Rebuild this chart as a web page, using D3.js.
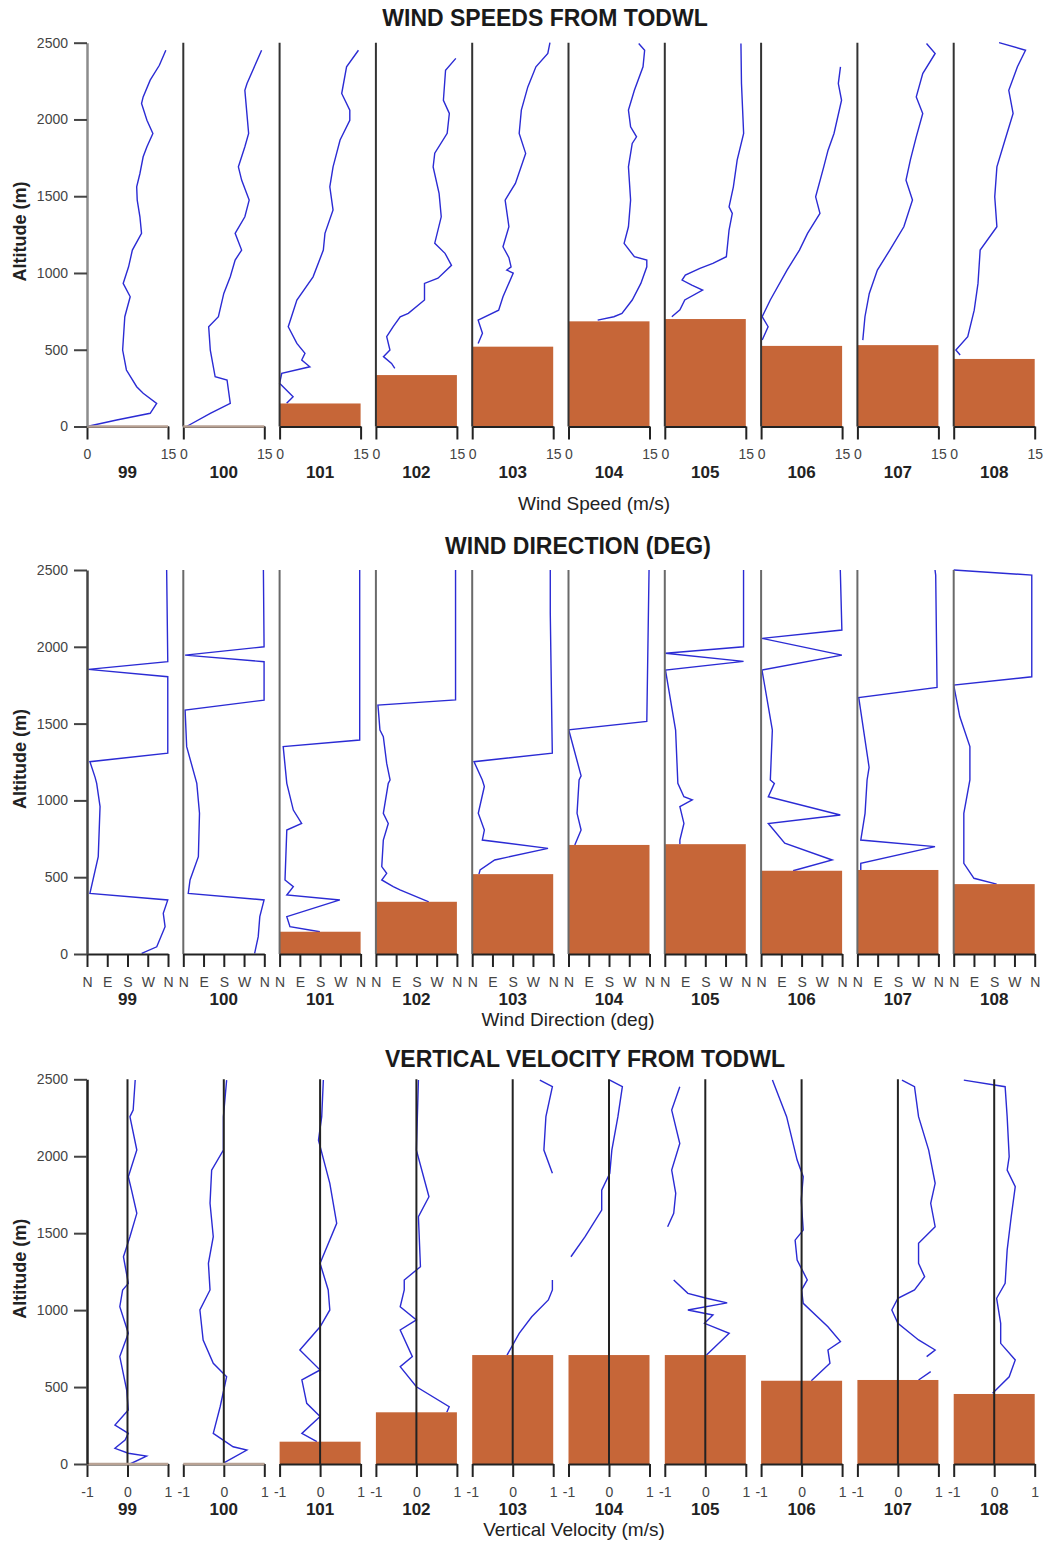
<!DOCTYPE html>
<html>
<head>
<meta charset="utf-8">
<script src="https://d3js.org/d3.v7.min.js"></script>
<style>
  body { margin: 0; background: #fff; }
  svg { font-family: "Liberation Sans", Arial, sans-serif; }
</style>
</head>
<body>
<script>
// flight / run numbers, one column each
const runs = ["99", "100", "101", "102", "103", "104", "105", "106", "107", "108"];
const altTicks = [0, 500, 1000, 1500, 2000, 2500];
const speedTicks = [0, 15];
const dirTicks = [0, 90, 180, 270, 360];
const dirLabels = ["N", "E", "S", "W", "N"];
const vertTicks = [-1, 0, 1];

// boundary layer depth (m) drawn as the orange bars, per panel
const pblSpeed = [0, 0, 150, 335, 520, 685, 700, 525, 530, 440];
const pblDir = [0, 0, 145, 340, 520, 710, 715, 542, 547, 455];
const pblVert = [0, 0, 145, 336, 708, 708, 708, 541, 546, 455];

// [altitude m, wind speed m/s]
const speedProfiles = [
  [[0,0],[42,5.5],[86,11.7],[151,12.9],[216,10.4],[259,9.2],[368,7.3],[498,6.6],[715,7.0],[845,8.0],[932,6.7],[1040,7.7],[1149,8.4],[1258,10.1],[1366,9.8],[1475,9.3],[1561,9.2],[1648,9.8],[1757,10.4],[1822,11.1],[1909,12.2],[1995,11.1],[2104,10.1],[2147,10.4],[2256,11.7],[2353,13.4],[2451,14.6]],
  [[0,0.6],[86,5.0],[151,8.7],[303,8.1],[324,5.9],[498,5.0],[650,4.7],[715,6.5],[867,7.5],[975,8.7],[1084,9.6],[1149,10.8],[1258,9.6],[1366,11.4],[1475,12.2],[1605,10.8],[1691,10.2],[1822,11.4],[1909,12.1],[2190,11.4],[2234,11.8],[2451,14.5]],
  [[151,1.3],[194,2.5],[281,0],[346,0.4],[389,5.6],[433,4.1],[477,4.7],[541,3.2],[650,1.6],[715,2.2],[824,3.2],[975,6.2],[1149,8.1],[1258,8.4],[1410,9.9],[1561,9.3],[1691,9.9],[1866,11.2],[1995,13.0],[2061,13.0],[2169,11.5],[2343,12.4],[2451,14.6]],
  [[379,3.5],[411,2.9],[455,1.4],[498,2.6],[585,2.0],[650,3.2],[715,4.5],[737,6.0],[824,9.0],[932,9.0],[966,11.5],[1050,14.0],[1128,12.8],[1194,10.9],[1366,12.1],[1519,11.7],[1691,10.6],[1780,10.9],[1910,13.2],[2039,13.6],[2125,12.5],[2321,12.9],[2398,14.8]],
  [[541,1.1],[607,1.9],[693,1.1],[758,4.9],[845,5.7],[999,7.6],[1019,6.4],[1040,7.2],[1100,6.8],[1171,5.7],[1301,6.8],[1475,6.1],[1583,8.0],[1779,9.9],[1909,8.7],[2061,9.1],[2212,10.3],[2343,11.8],[2430,14.0],[2500,14.4]],
  [[693,5.4],[715,8.4],[737,9.9],[824,11.8],[932,13.4],[1040,14.5],[1084,14.5],[1106,12.2],[1193,10.3],[1301,11.1],[1475,11.5],[1691,11.1],[1844,11.8],[1887,12.6],[1952,11.5],[2061,11.1],[2190,12.2],[2343,13.8],[2451,14.1],[2495,13.0]],
  [[715,1.3],[760,2.8],[824,3.7],[889,7.0],[921,5.0],[954,3.2],[986,3.8],[1030,6.5],[1062,8.9],[1106,11.4],[1280,11.9],[1388,12.5],[1431,11.9],[1561,12.7],[1735,13.4],[1909,14.6],[2234,14.2],[2495,14.1]],
  [[563,0.2],[650,1.3],[715,0.2],[824,1.7],[1019,4.8],[1149,7.1],[1258,8.6],[1388,10.9],[1496,10.1],[1691,11.6],[1800,12.4],[1909,13.5],[2125,14.9],[2234,14.3],[2343,14.7]],
  [[563,1.0],[715,1.4],[867,2.2],[1019,3.7],[1149,6.0],[1301,8.6],[1475,10.2],[1605,9.0],[1735,9.8],[1887,10.9],[2039,12.1],[2147,10.9],[2299,12.1],[2430,14.4],[2495,12.8]],
  [[466,1.2],[498,0.4],[585,2.6],[758,3.8],[932,4.5],[1149,4.9],[1301,8.0],[1496,7.6],[1691,8.0],[1866,9.5],[2039,11.0],[2190,10.2],[2343,11.8],[2451,13.3],[2500,8.4]]
];

// [altitude m, wind direction deg]
const dirProfiles = [
  [[4,243],[47,310],[178,347],[265,339],[352,359],[395,13],[634,50],[960,58],[1111,43],[1150,36],[1252,13],[1307,359],[1805,359],[1853,6],[1903,359],[2500,354]],
  [[4,317],[113,333],[243,340],[352,359],[395,22],[482,30],[634,67],[916,72],[1111,60],[1350,15],[1588,8],[1653,359],[1903,359],[1946,8],[2000,359],[2500,356]],
  [[145,179],[178,46],[243,32],[352,268],[384,32],[438,61],[482,24],[807,32],[850,98],[937,61],[1111,32],[1350,16],[1393,356],[1840,356],[2500,356]],
  [[340,235],[417,107],[438,77],[482,26],[525,48],[569,26],[742,33],[850,55],[916,33],[1111,55],[1133,63],[1241,48],[1415,33],[1458,18],[1588,11],[1620,9],[1654,354],[2500,354]],
  [[520,30],[547,35],[612,100],[688,337],[742,45],[807,54],[916,27],[1091,54],[1133,45],[1252,8],[1307,356],[2218,347],[2500,347]],
  [[710,28],[807,56],[916,38],[1133,47],[1160,56],[1460,1],[1514,348],[2500,358]],
  [[715,67],[742,67],[850,85],[960,67],[1003,122],[1024,85],[1111,58],[1458,48],[1849,3],[1905,350],[1958,3],[2000,350],[2500,350]],
  [[542,142],[612,316],[721,105],[850,32],[905,352],[1024,32],[1111,59],[1133,41],[1458,50],[1849,4],[1946,359],[2055,4],[2109,359],[2500,352]],
  [[547,15],[590,15],[699,345],[742,15],[916,34],[1133,43],[1215,52],[1670,6],[1736,354],[2467,348],[2500,345]],
  [[455,191],[493,90],[590,45],[916,45],[1133,72],[1350,72],[1546,27],[1751,0],[1805,347],[2467,347],[2500,0]]
];

// [altitude m, vertical velocity m/s]; null = gap in the record
const vertProfiles = [
  [[0,0.06],[51,0.47],[70,0.02],[102,-0.31],[156,-0.06],[199,0.02],[253,-0.31],[351,0.02],[481,-0.02],[698,-0.19],[850,0.02],[1022,-0.19],[1131,-0.12],[1174,0.02],[1347,-0.10],[1477,0.06],[1629,0.23],[1780,0.10],[1867,0.02],[2040,0.23],[2257,0.06],[2300,0.14],[2495,0.19]],
  [[5,-0.01],[91,0.57],[112,0.23],[199,-0.26],[372,-0.09],[567,0.07],[654,-0.26],[806,-0.51],[1001,-0.59],[1131,-0.34],[1304,-0.38],[1477,-0.26],[1694,-0.34],[1910,-0.30],[2040,-0.01],[2257,-0.01],[2495,0.07]],
  [[145,-0.08],[199,-0.45],[308,0],[394,-0.33],[546,-0.45],[611,0],[741,-0.50],[892,0],[1001,0.24],[1131,0.20],[1304,0],[1564,0.41],[1824,0.24],[2105,-0.04],[2257,0.04],[2495,0.08]],
  [[336,0.75],[372,0.81],[502,0],[633,-0.4],[698,-0.1],[871,-0.4],[936,0],[1022,-0.4],[1131,-0.3],[1196,-0.3],[1282,0.10],[1607,0.05],[1737,0.31],[2040,0],[2495,0.05]],
  [[708,-0.14],[849,0.16],[957,0.47],[1066,0.88],[1131,0.98],[1196,0.98],null,[1889,0.98],[2040,0.77],[2257,0.82],[2452,0.98],[2495,0.67]],
  [[1347,-0.94],[1477,-0.59],[1650,-0.18],[1780,-0.18],[1889,0.02],[2040,0.07],[2257,0.22],[2452,0.33],[2495,0.02]],
  [[708,0.03],[849,0.59],[914,-0.02],[968,0.19],[1001,-0.43],[1047,0.54],[1077,0.03],[1109,-0.43],[1196,-0.78],null,[1542,-0.93],[1629,-0.78],[1759,-0.73],[1910,-0.83],[2083,-0.63],[2300,-0.83],[2452,-0.63]],
  [[541,0.24],[654,0.70],[741,0.65],[795,0.96],[892,0.65],[1044,0.04],[1131,0],[1196,0.14],[1326,-0.11],[1455,-0.16],[1520,0.04],[1715,-0.01],[1867,0.04],[1975,-0.11],[2257,-0.37],[2495,-0.72]],
  [[546,0.51],[600,0.81],null,[698,0.71],[741,0.92],[806,0.51],[914,0],[1001,-0.15],[1077,0],[1131,0.41],[1217,0.66],[1304,0.51],[1434,0.51],[1542,0.92],[1694,0.81],[1824,0.92],[2040,0.76],[2257,0.51],[2452,0.41],[2495,0.10]],
  [[459,-0.04],[567,0.37],[676,0.52],[784,0.16],[914,0.16],[1077,0.06],[1174,0.27],[1390,0.32],[1607,0.42],[1802,0.52],[1910,0.32],[1997,0.37],[2257,0.32],[2452,0.27],[2495,-0.75]]
];

var width = 1047, height = 1544;
var barColor = "#c66638", lineColor = "#2b2bd4";
var colW = 81;

var svg = d3.select("body").append("svg")
    .attr("width", width)
    .attr("height", height);

svg.append("rect").attr("width", width).attr("height", height).attr("fill", "#fff");

// left edge of every column
var colX = d3.scaleLinear().domain([0, runs.length - 1]).range([87, 953.7]);

var plain = function (d) { return String(d); };

var panels = [
  { title: "WIND SPEEDS FROM TODWL", titleX: 545, titleY: 26, top: 42.7, bottom: 426.5,
    domain: [0, 15], ticks: speedTicks, fmt: plain, profiles: speedProfiles, pbl: pblSpeed,
    xTitle: "Wind Speed (m/s)", xTitleX: 594, xTitleDy: 83,
    ref: "left", refColor: "#333", axisColor: "#8c8c8c", zeroBar: true },
  { title: "WIND DIRECTION (DEG)", titleX: 578, titleY: 554, top: 570, bottom: 954,
    domain: [0, 360], ticks: dirTicks, fmt: function (d, i) { return dirLabels[i]; }, profiles: dirProfiles, pbl: pblDir,
    xTitle: "Wind Direction (deg)", xTitleX: 568, xTitleDy: 72,
    ref: "left", refColor: "#6a6a6a", axisColor: "#444", zeroBar: false },
  { title: "VERTICAL VELOCITY FROM TODWL", titleX: 585, titleY: 1067, top: 1079.3, bottom: 1464,
    domain: [-1, 1], ticks: vertTicks, fmt: plain, profiles: vertProfiles, pbl: pblVert,
    xTitle: "Vertical Velocity (m/s)", xTitleX: 574, xTitleDy: 72,
    ref: "zero", refColor: "#222", axisColor: "#222", zeroBar: true }
];

panels.forEach(function (p) {
    var y = d3.scaleLinear().domain([0, 2500]).range([p.bottom, p.top]);
    var x = d3.scaleLinear().domain(p.domain).range([0, colW]);
    var line = d3.line()
        .defined(function (d) { return d !== null; })
        .x(function (d) { return x(d[1]); })
        .y(function (d) { return y(d[0]); });

    svg.append("text")
        .attr("x", p.titleX).attr("y", p.titleY)
        .attr("text-anchor", "middle")
        .attr("font-size", 23).attr("font-weight", "bold").attr("fill", "#1a1a1a")
        .text(p.title);

    runs.forEach(function (run, i) {
        var c = svg.append("g").attr("transform", "translate(" + colX(i) + ",0)");

        c.append("path")
            .datum(p.profiles[i])
            .attr("d", line)
            .attr("fill", "none")
            .attr("stroke", lineColor)
            .attr("stroke-width", 1.4);

        if (p.pbl[i] > 0) {
            c.append("rect")
                .attr("x", 0).attr("width", colW)
                .attr("y", y(p.pbl[i]))
                .attr("height", y(0) - y(p.pbl[i]))
                .attr("fill", barColor);
        }

        // reference line: column's own left axis, or the zero line
        if (!(p.ref === "left" && i === 0)) {
            var rx = p.ref === "left" ? 0 : x(0);
            c.append("line")
                .attr("x1", rx).attr("x2", rx)
                .attr("y1", y(2500)).attr("y2", y(0))
                .attr("stroke", p.refColor).attr("stroke-width", 2);
        }

        var ax = c.append("g")
            .attr("transform", "translate(0," + p.bottom + ")")
            .call(d3.axisBottom(x).tickValues(p.ticks).tickSize(13).tickSizeOuter(0)
                .tickPadding(10).tickFormat(p.fmt));
        ax.selectAll("path, line").attr("stroke", "#222").attr("stroke-width", 2);
        ax.selectAll("text").attr("font-size", 14).attr("fill", "#444")
            .attr("font-family", "Liberation Sans, Arial, sans-serif");

        if (p.zeroBar && p.pbl[i] === 0) {
            c.append("line")
                .attr("x1", 0).attr("x2", colW)
                .attr("y1", y(0)).attr("y2", y(0))
                .attr("stroke", "#b8a294").attr("stroke-width", 2.5);
        }

        c.append("text")
            .attr("x", colW / 2).attr("y", p.bottom + 51)
            .attr("text-anchor", "middle")
            .attr("font-size", 17).attr("font-weight", "bold").attr("fill", "#222")
            .text(run);
    });

    // shared altitude axis on the left
    var ya = svg.append("g")
        .attr("transform", "translate(87,0)")
        .call(d3.axisLeft(y).tickValues(altTicks).tickSize(13).tickSizeOuter(0)
            .tickPadding(6).tickFormat(plain));
    ya.select(".domain").attr("stroke", p.axisColor).attr("stroke-width", 2.5);
    ya.selectAll(".tick line").attr("stroke", "#444").attr("stroke-width", 2);
    ya.selectAll("text").attr("font-size", 14).attr("fill", "#444")
        .attr("font-family", "Liberation Sans, Arial, sans-serif");

    svg.append("text")
        .attr("transform", "translate(26," + ((p.top + p.bottom) / 2 - 3) + ") rotate(-90)")
        .attr("text-anchor", "middle")
        .attr("font-size", 18).attr("font-weight", "bold").attr("fill", "#222")
        .text("Altitude (m)");

    svg.append("text")
        .attr("x", p.xTitleX).attr("y", p.bottom + p.xTitleDy)
        .attr("text-anchor", "middle")
        .attr("font-size", 19).attr("fill", "#222")
        .text(p.xTitle);
});
</script>
</body>
</html>
